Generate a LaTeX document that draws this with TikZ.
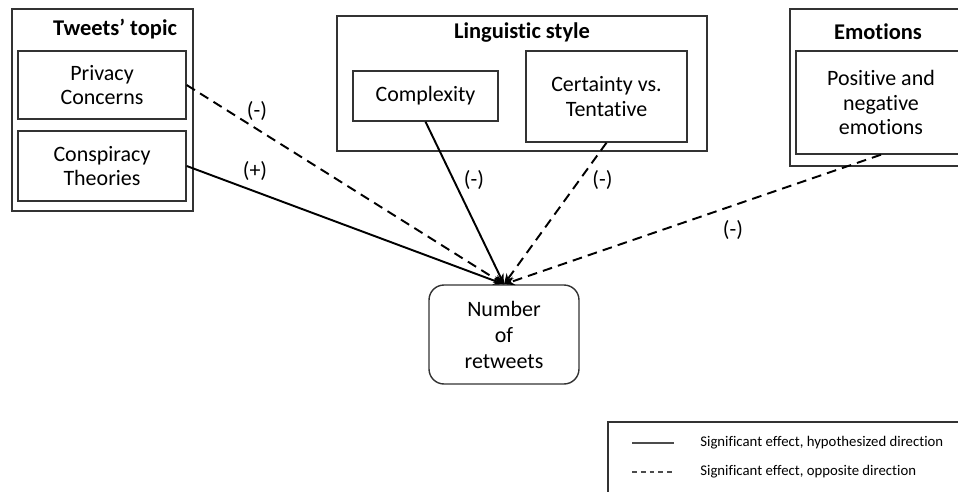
\documentclass[tikz,border=0pt]{standalone}
\usepackage{fontspec}
\setmainfont{Carlito}[Ligatures=NoCommon]
\usetikzlibrary{arrows.meta}

\begin{document}
\begin{tikzpicture}[x=0.02cm, y=-0.02cm,
        box/.style={draw=black!80, line width=0.8pt, inner sep=0pt, align=center, font=\fontsize{12.5}{14}\selectfont},
        group/.style={draw=black!80, line width=0.8pt, inner sep=0pt},
        grouptitle/.style={font=\fontsize{12.8}{14}\selectfont\bfseries, inner sep=0pt},
        effect/.style={line width=1.1pt, -{Stealth[length=6pt, width=5pt]}},
        opposite/.style={effect, dash pattern=on 5.5pt off 3.5pt},
        sign/.style={font=\fontsize{12.5}{14}\selectfont, inner sep=0pt},
        legendtext/.style={font=\fontsize{8.4}{10}\selectfont, anchor=west, inner sep=0pt}]
                    \useasboundingbox (0,0) rectangle (958,491);
                    \clip (0,0) rectangle (958,491);

                    % groups
                    \node[group, minimum width=3.62cm, minimum height=4.04cm] (topic) at (102.5,110) {};
                    \node[grouptitle] (topictitle) at (115,29) {Tweets’ topic};
                    \node[group, minimum width=7.40cm, minimum height=2.70cm] (style) at (522,83.5) {};
                    \node[grouptitle] (styletitle) at (522,33) {Linguistic style};
                    \node[group, minimum width=3.64cm, minimum height=3.14cm] (emo) at (881,87.5) {};
                    \node[grouptitle] (emotitle) at (878,32) {Emotions};

                    % predictors and outcome
                    \node[box, minimum width=3.36cm, minimum height=1.36cm] (privacy) at (102,85) {Privacy\\Concerns};
                    \node[box, minimum width=3.36cm, minimum height=1.40cm] (conspiracy) at (102,166) {Conspiracy\\Theories};
                    \node[box, minimum width=2.90cm, minimum height=1.00cm] (complexity) at (425.5,96) {Complexity};
                    \node[box, minimum width=3.22cm, minimum height=1.82cm] (certainty) at (606.5,96.5) {Certainty vs.\\Tentative};
                    \node[box, minimum width=3.40cm, minimum height=2.06cm] (positive) at (881,102.5) {Positive and\\negative\\emotions};
                    \node[box, rounded corners=0.3cm, minimum width=3.00cm, minimum height=1.98cm, font=\fontsize{12.5}{14.8}\selectfont] (retweets) at (504,334.5) {Number\\of\\retweets};

                    % effects
                    \draw[opposite] (privacy.east) -- (retweets.north);
                    \draw[effect] (conspiracy.east) -- (retweets.north);
                    \draw[effect] (complexity.south) -- (retweets.north);
                    \draw[opposite] (certainty.south) -- (retweets.north);
                    \draw[opposite] (positive.south) -- (retweets.north);
                    \node[sign] (privacysign) at (257,111) {(-)};
                    \node[sign] (conspiracysign) at (255,171) {(+)};
                    \node[sign] (complexitysign) at (474,180) {(-)};
                    \node[sign] (certaintysign) at (602.5,180) {(-)};
                    \node[sign] (emosign) at (733,230) {(-)};

                    % legend
                    \draw[draw=black!80, line width=0.8pt] (608,422) rectangle (1000,520);
                    \coordinate (solidA) at (632,443); \coordinate (solidB) at (674,443);
                    \coordinate (dashA) at (632,472); \coordinate (dashB) at (674,472);
                    \draw[black!70, line width=0.6pt] (solidA) -- (solidB);
                    \draw[black!70, line width=0.6pt, dash pattern=on 2.8pt off 2.2pt] (dashA) -- (dashB);
                    \node[legendtext] (solidtext) at (700,443) {Significant effect, hypothesized direction};
                    \node[legendtext] (dashtext) at (700,472) {Significant effect, opposite direction};
                \end{tikzpicture}
\end{document}
